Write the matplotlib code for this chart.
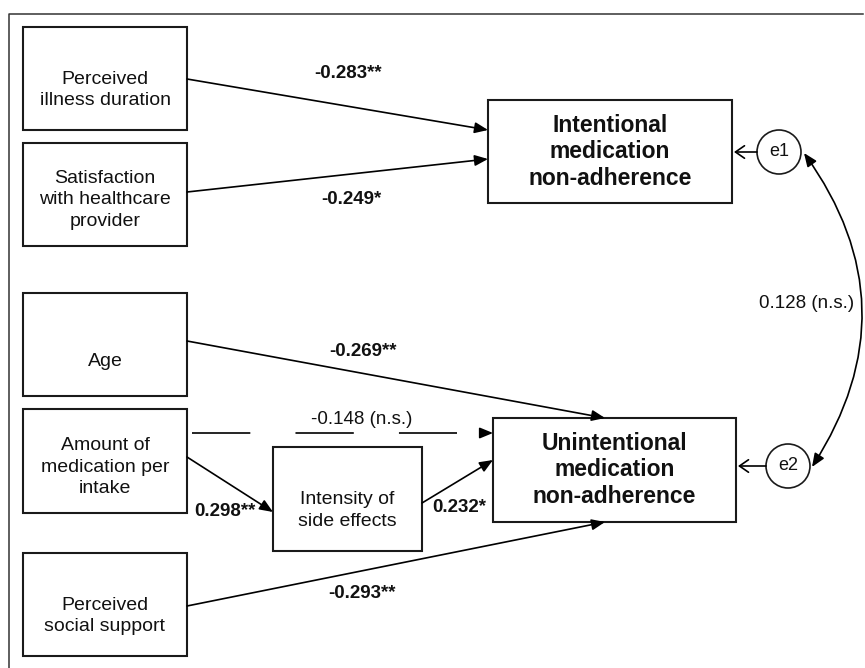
import matplotlib
matplotlib.use("Agg")
import matplotlib.pyplot as plt
from matplotlib.patches import Rectangle, Circle, FancyArrowPatch

plt.rcParams['font.family'] = ['Liberation Sans', 'DejaVu Sans']
plt.rcParams['lines.scale_dashes'] = False

# ---------------- data ----------------
node_ids = ["pid", "sat", "age", "amt", "pss", "ise", "imn", "umn"]
node_labels = ["Perceived\nillness duration",
               "Satisfaction\nwith healthcare\nprovider",
               "Age",
               "Amount of\nmedication per\nintake",
               "Perceived\nsocial support",
               "Intensity of\nside effects",
               "Intentional\nmedication\nnon-adherence",
               "Unintentional\nmedication\nnon-adherence"]
error_ids = ["e1", "e2"]
error_targets = ["imn", "umn"]
path_from = ["pid", "sat", "age", "amt", "ise", "pss", "amt"]
path_to = ["imn", "imn", "umn", "ise", "umn", "umn", "umn"]
path_coef = ["-0.283**", "-0.249*", "-0.269**", "0.298**", "0.232*", "-0.293**", "-0.148 (n.s.)"]
path_signif = [True, True, True, True, True, True, False]
cov_label = "0.128 (n.s.)"

# ---------------- layout (pixel space) ----------------
W, H = 865, 668
boxes = {  # x0, y0, x1, y1, text center y
    "pid": (23, 27, 187, 130, 90),
    "sat": (23, 143, 187, 246, 200),
    "age": (23, 293, 187, 396, 361),
    "amt": (23, 409, 187, 513, 467),
    "pss": (23, 553, 187, 656, 616),
    "ise": (273, 447, 422, 551, 510.5),
    "imn": (488, 100, 732, 203, 152),
    "umn": (493, 418, 736, 522, 470),
}
bold_nodes = {"imn", "umn"}
err_pos = {"e1": (779, 152), "e2": (788, 466)}
err_r = 22
path_pts = [((187, 79), (488, 130)),
            ((187, 192), (488, 159)),
            ((187, 341), (605, 418)),
            ((187, 457), (273, 512)),
            ((422, 503), (493, 460)),
            ((187, 606), (605, 522)),
            ((192, 433), (493, 433))]
label_pos = [(348, 74), (351, 199), (363, 352), (225, 512), (459, 507), (362, 593), (362, 420)]

fig = plt.figure(figsize=(W / 100, H / 100), dpi=100)
ax = fig.add_axes([0, 0, 1, 1])
ax.set_xlim(0, W)
ax.set_ylim(H, 0)
ax.axis('off')

# frame
ax.plot([9, 9, 863], [H + 5, 14, 14], color='#333333', lw=1.1)

for nid, lab in zip(node_ids, node_labels):
    x0, y0, x1, y1, ty = boxes[nid]
    ax.add_patch(Rectangle((x0, y0), x1 - x0, y1 - y0, fill=False, ec='#1a1a1a', lw=1.5))
    if nid in bold_nodes:
        ax.text((x0 + x1) / 2, ty, lab, ha='center', va='center', fontsize=16.5,
                fontweight='bold', linespacing=1.19, color='#111111')
    else:
        ax.text((x0 + x1) / 2, ty, lab, ha='center', va='center', fontsize=14,
                linespacing=1.36, color='#111111')

solid_head = '-|>,head_length=0.8,head_width=0.33'
for (p0, p1), coef, sig, lp in zip(path_pts, path_coef, path_signif, label_pos):
    if sig:
        ax.add_patch(FancyArrowPatch(p0, p1, arrowstyle=solid_head, mutation_scale=10,
                                     lw=1.2, color='black', shrinkA=0, shrinkB=0))
        ax.text(lp[0], lp[1], coef, ha='center', va='center', fontsize=13.5,
                fontweight='bold', color='#111111')
    else:
        ax.plot([p0[0], p1[0] - 36], [p0[1], p1[1]], color='black', lw=1.2,
                linestyle=(0, (42, 32.5)))
        ax.add_patch(FancyArrowPatch((p1[0] - 10.5, p1[1]), p1, arrowstyle=solid_head,
                                     mutation_scale=10, lw=1.2, color='black',
                                     shrinkA=0, shrinkB=0))
        ax.text(lp[0], lp[1], coef, ha='center', va='center', fontsize=13.5,
                color='#111111')

for eid, tgt in zip(error_ids, error_targets):
    cx, cy = err_pos[eid]
    ax.add_patch(Circle((cx, cy), err_r, fill=False, ec='#1a1a1a', lw=1.2))
    ax.text(cx, cy, eid, ha='center', va='center', fontsize=13, color='#111111')
    bx1 = boxes[tgt][2]
    ax.add_patch(FancyArrowPatch((cx - err_r, cy), (bx1 + 2, cy),
                                 arrowstyle='->,head_length=0.65,head_width=0.45',
                                 mutation_scale=10, lw=1.2, color='black',
                                 shrinkA=0, shrinkB=0))

# covariance between errors
ax.add_patch(FancyArrowPatch((err_pos["e1"][0] + err_r + 3, err_pos["e1"][1] + 1),
                             (err_pos["e2"][0] + err_r + 2, err_pos["e2"][1] + 1),
                             connectionstyle='arc3,rad=-0.34',
                             arrowstyle='<|-|>,head_length=0.8,head_width=0.33',
                             mutation_scale=10, lw=1.2, color='black',
                             shrinkA=0, shrinkB=0))
ax.text(807, 304, cov_label, ha='center', va='center', fontsize=13.5, color='#111111')

fig.savefig('out.png', dpi=100, facecolor='white')
